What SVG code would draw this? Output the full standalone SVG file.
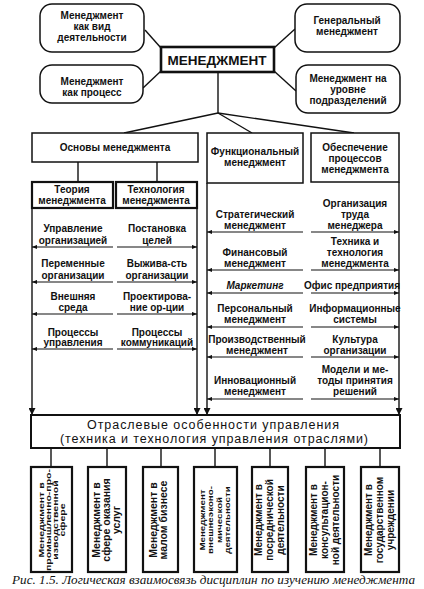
<svg xmlns="http://www.w3.org/2000/svg" width="424" height="589" viewBox="0 0 424 589">
<style>
.bg{fill:#fff}
.b{fill:#fff;stroke:#111;stroke-width:1.5}
.bt{fill:#fff;stroke:#111;stroke-width:2.2}
.ln{stroke:#111;stroke-width:1.4;fill:none}
.ar{stroke:#111;stroke-width:1.2;fill:none}
text{font-family:"Liberation Sans",Arial,sans-serif;fill:#111;font-weight:bold;font-size:10px;text-anchor:middle}
.big{font-size:13.5px}
.br{font-weight:normal;font-size:12.5px}
.it{font-style:italic;font-weight:bold}
.cap{font-family:"Liberation Serif","Times New Roman",serif;font-style:italic;font-weight:normal;font-size:13px;text-anchor:start}
</style>
<defs>
<marker id="ah" viewBox="0 0 6 6" refX="6" refY="3" markerWidth="6" markerHeight="5" markerUnits="userSpaceOnUse" orient="auto"><path d="M0,0.5 L6,3 L0,5.5 z" fill="#111"/></marker>
<marker id="dn" viewBox="0 0 8 8" refX="8" refY="4" markerWidth="9" markerHeight="7" markerUnits="userSpaceOnUse" orient="auto"><path d="M0,0 L8,4 L0,8 z" fill="#111"/></marker>
</defs>
<rect class="bg" x="0" y="0" width="424" height="589"/>

<g id="connectors">
<line class="ln" x1="145" y1="30" x2="161" y2="48"/>
<line class="ln" x1="143" y1="88" x2="161" y2="71"/>
<line class="ln" x1="274" y1="48" x2="295" y2="29"/>
<line class="ln" x1="274" y1="71" x2="296" y2="91"/>
<line class="ln" x1="218" y1="72" x2="218" y2="113"/>
<line class="ln" x1="218" y1="113" x2="124" y2="133"/>
<line class="ln" x1="218" y1="113" x2="252" y2="133"/>
<line class="ln" x1="218" y1="113" x2="354" y2="133"/>
<line class="ln" x1="78" y1="162" x2="78" y2="182"/>
<line class="ln" x1="157" y1="162" x2="157" y2="182"/>
<line class="ln" x1="32" y1="208" x2="32" y2="415" marker-end="url(#dn)"/>
<line class="ln" x1="197" y1="208" x2="197" y2="415" marker-end="url(#dn)"/>
<line class="ln" x1="207" y1="183" x2="207" y2="415" marker-end="url(#dn)"/>
<line class="ln" x1="399" y1="182" x2="399" y2="415" marker-end="url(#dn)"/>
<line class="ar" x1="113" y1="247" x2="32" y2="247" marker-end="url(#ah)"/>
<line class="ar" x1="117" y1="247" x2="197" y2="247" marker-end="url(#ah)"/>
<line class="ar" x1="113" y1="282" x2="32" y2="282" marker-end="url(#ah)"/>
<line class="ar" x1="117" y1="282" x2="197" y2="282" marker-end="url(#ah)"/>
<line class="ar" x1="113" y1="314" x2="32" y2="314" marker-end="url(#ah)"/>
<line class="ar" x1="117" y1="314" x2="197" y2="314" marker-end="url(#ah)"/>
<line class="ar" x1="113" y1="349" x2="32" y2="349" marker-end="url(#ah)"/>
<line class="ar" x1="117" y1="349" x2="197" y2="349" marker-end="url(#ah)"/>
<line class="ar" x1="303" y1="232" x2="207" y2="232" marker-end="url(#ah)"/>
<line class="ar" x1="311" y1="232" x2="399" y2="232" marker-end="url(#ah)"/>
<line class="ar" x1="303" y1="270" x2="207" y2="270" marker-end="url(#ah)"/>
<line class="ar" x1="311" y1="270" x2="399" y2="270" marker-end="url(#ah)"/>
<line class="ar" x1="303" y1="293" x2="207" y2="293" marker-end="url(#ah)"/>
<line class="ar" x1="311" y1="293" x2="399" y2="293" marker-end="url(#ah)"/>
<line class="ar" x1="303" y1="327" x2="207" y2="327" marker-end="url(#ah)"/>
<line class="ar" x1="311" y1="327" x2="399" y2="327" marker-end="url(#ah)"/>
<line class="ar" x1="303" y1="357" x2="207" y2="357" marker-end="url(#ah)"/>
<line class="ar" x1="311" y1="357" x2="399" y2="357" marker-end="url(#ah)"/>
<line class="ar" x1="303" y1="399" x2="207" y2="399" marker-end="url(#ah)"/>
<line class="ar" x1="311" y1="399" x2="399" y2="399" marker-end="url(#ah)"/>
<line class="ln" x1="51" y1="448" x2="51" y2="467"/>
<line class="ln" x1="107" y1="448" x2="107" y2="467"/>
<line class="ln" x1="161" y1="448" x2="161" y2="467"/>
<line class="ln" x1="215" y1="448" x2="215" y2="467"/>
<line class="ln" x1="270" y1="448" x2="270" y2="467"/>
<line class="ln" x1="325" y1="448" x2="325" y2="467"/>
<line class="ln" x1="380" y1="448" x2="380" y2="467"/>
</g>

<g id="n-vid"><rect class="b" x="40" y="4" width="104" height="48" rx="12"/>
<text x="92" y="19">Менеджмент</text><text x="92" y="30">как вид</text><text x="92" y="41">деятельности</text></g>
<g id="n-gen"><rect class="b" x="295" y="4" width="105" height="48" rx="12"/>
<text x="347" y="24">Генеральный</text><text x="347" y="35">менеджмент</text></g>
<g id="n-main"><rect class="b" x="161" y="47" width="113" height="25" style="stroke-width:2.6"/>
<text class="big" x="217" y="64.5">МЕНЕДЖМЕНТ</text></g>
<g id="n-proc"><rect class="b" x="40" y="65" width="103" height="38" rx="12"/>
<text x="92" y="85">Менеджмент</text><text x="92" y="96">как процесс</text></g>
<g id="n-podr"><rect class="b" x="296" y="65" width="104" height="48" rx="12"/>
<text x="348" y="82">Менеджмент на</text><text x="348" y="93">уровне</text><text x="348" y="104">подразделений</text></g>

<g id="n-osn"><rect class="b" x="32" y="133" width="166" height="29"/>
<text x="115" y="151">Основы менеджмента</text></g>
<g id="n-func"><rect class="b" x="207" y="133" width="96" height="50"/>
<text x="255" y="155">Функциональный</text><text x="255" y="166">менеджмент</text></g>
<g id="n-obesp"><rect class="b" x="311" y="133" width="88" height="49"/>
<text x="355" y="151">Обеспечение</text><text x="355" y="162">процессов</text><text x="355" y="173">менеджмента</text></g>
<g id="n-teor"><rect class="bt" x="32" y="182" width="81" height="26"/>
<text x="72" y="193">Теория</text><text x="72" y="204">менеджмента</text></g>
<g id="n-tech"><rect class="bt" x="116" y="182" width="81" height="26"/>
<text x="156" y="193">Технология</text><text x="156" y="204">менеджмента</text></g>

<g id="left-items">
<text x="73" y="232">Управление</text><text x="73" y="244">организацией</text>
<text x="157" y="232">Постановка</text><text x="157" y="244">целей</text>
<text x="73" y="267">Переменные</text><text x="73" y="279">организации</text>
<text x="157" y="267">Выжива-сть</text><text x="157" y="279">организации</text>
<text x="73" y="300">Внешняя</text><text x="73" y="311">среда</text>
<text x="157" y="300">Проектирова-</text><text x="157" y="311">ние ор-ции</text>
<text x="73" y="336">Процессы</text><text x="73" y="346">управления</text>
<text x="157" y="336">Процессы</text><text x="157" y="346">коммуникаций</text>
</g>
<g id="right-items">
<text x="255" y="218">Стратегический</text><text x="255" y="229">менеджмент</text>
<text x="355" y="207">Организация</text><text x="355" y="218">труда</text><text x="355" y="229">менеджера</text>
<text x="255" y="256">Финансовый</text><text x="255" y="267">менеджмент</text>
<text x="355" y="245">Техника и</text><text x="355" y="256">технология</text><text x="355" y="267">менеджмента</text>
<text class="it" x="255" y="289">Маркетинг</text>
<text x="352" y="289">Офис предприятия</text>
<text x="255" y="312">Персональный</text><text x="255" y="323">менеджмент</text>
<text x="355" y="312">Информационные</text><text x="355" y="323">системы</text>
<text x="257" y="343">Производственный</text><text x="257" y="354">менеджмент</text>
<text x="355" y="343">Культура</text><text x="355" y="354">организации</text>
<text x="255" y="384">Инновационный</text><text x="255" y="395">менеджмент</text>
<text x="355" y="373">Модели и ме-</text><text x="355" y="384">тоды принятия</text><text x="355" y="395">решений</text>
</g>

<g id="n-otrasl"><rect class="b" x="31" y="415" width="369" height="33" style="stroke-width:2"/>
<text class="br" x="213" y="429" textLength="252" lengthAdjust="spacing">Отраслевые особенности  управления</text>
<text class="br" x="214" y="443" textLength="308" lengthAdjust="spacing">(техника и технология управления отраслями)</text></g>

<g id="n-b1"><rect class="bt" x="31" y="467" width="41" height="105"/>
<text transform="translate(44,520) rotate(-90) scale(1.4,1)" style="font-size:7.5px"><tspan x="0" y="0">Менеджмент в</tspan><tspan x="0" y="7">промышленно-про-</tspan><tspan x="0" y="14">изводственной</tspan><tspan x="0" y="21">сфере</tspan></text></g>
<g id="n-b2"><rect class="bt" x="88" y="467" width="38" height="105"/>
<text transform="translate(100,520) rotate(-90)" style="font-size:10.5px"><tspan x="0" y="0">Менеджмент в</tspan><tspan x="0" y="10">сфере оказания</tspan><tspan x="0" y="20">услуг</tspan></text></g>
<g id="n-b3"><rect class="bt" x="143" y="467" width="35" height="105"/>
<text transform="translate(157,520) rotate(-90)" style="font-size:10.5px"><tspan x="0" y="0">Менеджмент в</tspan><tspan x="0" y="10">малом бизнесе</tspan></text></g>
<g id="n-b4"><rect class="bt" x="194" y="467" width="43" height="105"/>
<text transform="translate(205,520) rotate(-90) scale(1.3,1)" style="font-size:7.5px"><tspan x="0" y="0">Менеджмент</tspan><tspan x="0" y="8.5">внешнеэконо-</tspan><tspan x="0" y="17">мической</tspan><tspan x="0" y="25.5">деятельности</tspan></text></g>
<g id="n-b5"><rect class="bt" x="252" y="467" width="36" height="105"/>
<text transform="translate(262,520) rotate(-90)" style="font-size:10px"><tspan x="0" y="0">Менеджмент в</tspan><tspan x="0" y="11">посреднической</tspan><tspan x="0" y="22">деятельности</tspan></text></g>
<g id="n-b6"><rect class="bt" x="306" y="467" width="38" height="105"/>
<text transform="translate(317,520) rotate(-90)" style="font-size:10px"><tspan x="0" y="0">Менеджмент в</tspan><tspan x="0" y="11">консультацион-</tspan><tspan x="0" y="22">ной деятельности</tspan></text></g>
<g id="n-b7"><rect class="bt" x="361" y="467" width="38" height="105"/>
<text transform="translate(372,520) rotate(-90)" style="font-size:10px"><tspan x="0" y="0">Менеджмент в</tspan><tspan x="0" y="11">государственном</tspan><tspan x="0" y="22">учреждении</tspan></text></g>

<text class="cap" x="12" y="584" textLength="403" lengthAdjust="spacingAndGlyphs">Рис. 1.5. Логическая взаимосвязь дисциплин по изучению менеджмента</text>
</svg>
